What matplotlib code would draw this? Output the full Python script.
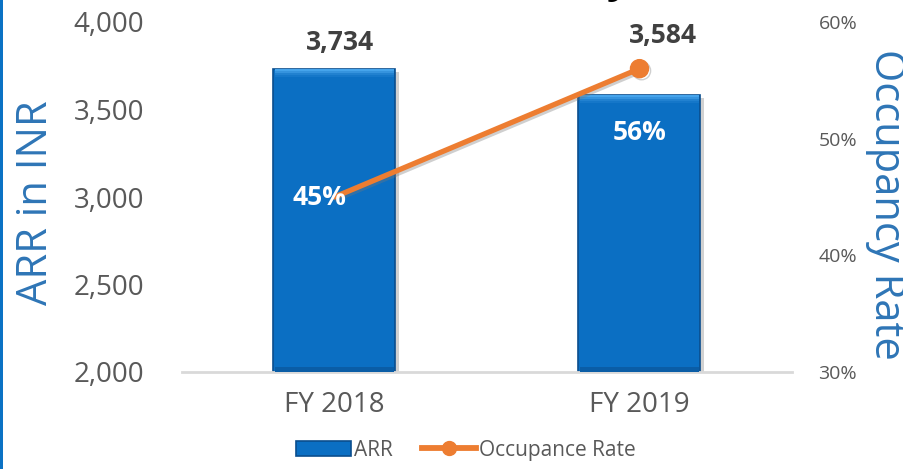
import matplotlib
matplotlib.use("Agg")
import matplotlib.pyplot as plt
import matplotlib.patheffects as pe
from matplotlib.patches import Rectangle
from matplotlib.lines import Line2D
from matplotlib.ticker import FuncFormatter, FixedLocator

categories = ["FY 2018", "FY 2019"]
arr_values = [3734, 3584]
occupancy = [45, 56]          # percent
left_ticks = [2000, 2500, 3000, 3500, 4000]
right_ticks = [30, 40, 50, 60]

FONT = ["Open Sans", "DejaVu Sans"]
plt.rcParams["font.family"] = FONT

W, H = 904, 469
fig = plt.figure(figsize=(W / 100, H / 100), dpi=100)
fig.patch.set_facecolor("white")

ax = fig.add_axes([182 / W, (H - 372) / H, 610 / W, 350 / H])
ax2 = ax.twinx()

x = list(range(len(categories)))
bar_w = 0.40
main_blue = "#0B6FC3"
edge_blue = "#0A4E8E"

bars = ax.bar(x, [v - 2000 for v in arr_values], bottom=2000, width=bar_w,
              color=main_blue, edgecolor=edge_blue, linewidth=1.2, zorder=2)
for b in bars:
    b.set_path_effects([pe.SimplePatchShadow(offset=(2.5, -2.5), shadow_rgbFace="#9a9a9a", alpha=0.45),
                        pe.Normal()])
# bevel highlight at top of bars (graded bands)
bevel_steps = [(12, "#45A4EC"), (24, "#3593DE"), (36, "#2181D0"), (48, "#1577C9")]
prev = 0
for depth, col in bevel_steps:
    ax.bar(x, [depth - prev] * len(x), bottom=[v - depth for v in arr_values],
           width=bar_w * 0.975, color=col, linewidth=0, zorder=3)
    prev = depth
# darker bottom band
ax.bar(x, [30] * len(x), bottom=2000, width=bar_w * 0.975,
       color="#0A5DA6", linewidth=0, zorder=3)

ax.set_xlim(-0.5, 1.5)
ax.set_ylim(2000, 4000)
ax.yaxis.set_major_locator(FixedLocator(left_ticks))
ax.yaxis.set_major_formatter(FuncFormatter(lambda v, p: f"{int(v):,}"))
ax.set_xticks(x)
ax.set_xticklabels(categories)
ax.tick_params(axis="y", length=0, pad=27, labelsize=20, labelcolor="#595959")
ax.tick_params(axis="x", length=0, pad=14, labelsize=20, labelcolor="#595959")
for s in ["top", "right", "left"]:
    ax.spines[s].set_visible(False)
ax.spines["bottom"].set_color("#D9D9D9")
ax.spines["bottom"].set_linewidth(2)

# line on secondary axis
line, = ax2.plot(x, occupancy, color="#ED7D31", linewidth=3.8, marker="o",
                 markersize=13, markevery=[1], solid_capstyle="round", zorder=5)
line.set_path_effects([pe.SimpleLineShadow(offset=(1.5, -1.5), shadow_color="#777777", alpha=0.35),
                       pe.Normal()])
ax2.set_ylim(30, 60)
ax2.yaxis.set_major_locator(FixedLocator(right_ticks))
ax2.yaxis.set_major_formatter(FuncFormatter(lambda v, p: f"{int(v)}%"))
ax2.tick_params(axis="y", length=0, pad=19, labelsize=14, labelcolor="#595959")
for s in ["top", "right", "left", "bottom"]:
    ax2.spines[s].set_visible(False)

# data labels for bars
bar_offsets = [(4, 19), (17, 43)]
for i, v in enumerate(arr_values):
    ax2.annotate(f"{v:,}", xy=(i, 30 + (v - 2000) * 30 / 2000), xytext=bar_offsets[i],
                 textcoords="offset points", ha="center", va="center",
                 fontsize=19, fontweight="bold", color="#404040", zorder=6)
# data labels for occupancy
occ_offsets = [(-11, 0), (0, -46)]
for i, v in enumerate(occupancy):
    ax2.annotate(f"{v}%", xy=(i, v), xytext=occ_offsets[i], textcoords="offset points",
                 ha="center", va="center", fontsize=19, fontweight="bold",
                 color="white", zorder=7)

# axis titles
fig.text(36 / W, (H - 203) / H, "ARR in INR", rotation=90, ha="center", va="center",
         fontsize=30, color="#2E75B6")
fig.text(886 / W, (H - 204) / H, "Occupancy Rate", rotation=-90, ha="center", va="center",
         fontsize=30, color="#2E75B6")

# the chart title is cut off by the top edge: only the tail of its last letter shows
fig.text(618 / W, 1.0 + 8 / H, "y", ha="center", va="baseline",
         fontsize=30, fontweight="bold", color="black")

# legend
h_bar = Rectangle((0, 0), 1, 1, facecolor=main_blue, edgecolor=edge_blue, linewidth=1.2)
h_line = Line2D([0], [0], color="#ED7D31", linewidth=4.2, marker="o", markersize=10)
leg = fig.legend([h_bar, h_line], ["ARR", "Occupance Rate"], ncol=2, frameon=False,
                 loc="center", bbox_to_anchor=(466 / W, (H - 450) / H),
                 fontsize=15, handlelength=2.6, handleheight=0.75,
                 handletextpad=0.15, columnspacing=1.4, labelcolor="#595959")

# left border line
fig.add_artist(Rectangle((0, 0), 3 / W, 1, transform=fig.transFigure,
                         facecolor="#0B72C4", edgecolor="none"))

fig.savefig("out.png", dpi=100)
